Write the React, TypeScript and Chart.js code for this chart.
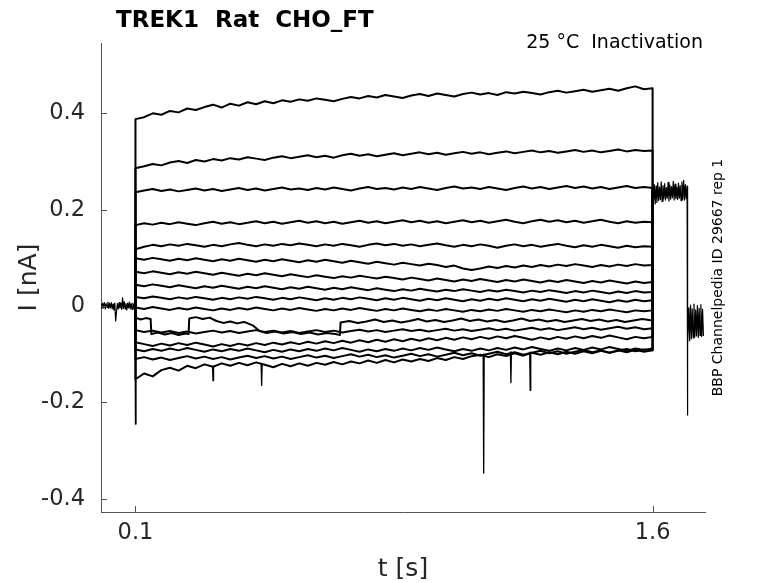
import React, { useEffect, useRef } from 'react';
import { Chart, ChartConfiguration, Plugin, registerables } from 'chart.js';

Chart.register(...registerables);

// ---- data (t in s, I in nA) ----
const tPre = [0, 0.0025, 0.005, 0.0075, 0.01, 0.0125, 0.015, 0.0175, 0.02, 0.0225,
    0.025, 0.0275, 0.03, 0.0325, 0.035, 0.0375, 0.04, 0.0425, 0.045, 0.0475,
    0.05, 0.0525, 0.055, 0.0575, 0.06, 0.0625, 0.065, 0.0675, 0.07, 0.0725,
    0.075, 0.0775, 0.08, 0.0825, 0.085, 0.0875, 0.09, 0.0925, 0.095, 0.0975, 0.1];
const iPre = [0.004, -0.005, 0.006, -0.004, 0.007, -0.006, 0.005, -0.003, 0.008, -0.005,
    0.006, -0.004, 0.007, -0.006, 0.004, -0.008, 0.006, -0.031, -0.012, 0.005,
    -0.006, 0.007, -0.004, 0.006, -0.007, 0.017, -0.005, 0.009, -0.006, 0.005,
    -0.008, 0.006, -0.004, 0.008, -0.006, 0.005, -0.007, 0.006, -0.004, 0.005, 0.000];

const tPulse = [0.100, 0.125, 0.150, 0.175, 0.200, 0.225, 0.250, 0.275, 0.300, 0.325,
    0.350, 0.375, 0.400, 0.425, 0.450, 0.475, 0.500, 0.525, 0.550, 0.575,
    0.600, 0.625, 0.650, 0.675, 0.700, 0.725, 0.750, 0.775, 0.800, 0.825,
    0.850, 0.875, 0.900, 0.925, 0.950, 0.975, 1.000, 1.025, 1.050, 1.075,
    1.100, 1.125, 1.150, 1.175, 1.200, 1.225, 1.250, 1.275, 1.300, 1.325,
    1.350, 1.375, 1.400, 1.425, 1.450, 1.475, 1.500, 1.525, 1.550, 1.575, 1.600];

const iA = [0.388, 0.392, 0.400, 0.397, 0.405, 0.402, 0.410, 0.407, 0.413, 0.418,
    0.412, 0.420, 0.416, 0.423, 0.419, 0.425, 0.421, 0.427, 0.424, 0.429,
    0.426, 0.431, 0.428, 0.425, 0.430, 0.434, 0.431, 0.436, 0.433, 0.438,
    0.435, 0.432, 0.437, 0.440, 0.436, 0.441, 0.438, 0.435, 0.440, 0.443,
    0.439, 0.442, 0.438, 0.444, 0.441, 0.445, 0.442, 0.439, 0.444, 0.447,
    0.443, 0.446, 0.449, 0.445, 0.448, 0.451, 0.447, 0.452, 0.456, 0.450, 0.452];
const iB = [0.286, 0.290, 0.295, 0.292, 0.298, 0.301, 0.297, 0.303, 0.300, 0.305,
    0.302, 0.307, 0.304, 0.309, 0.306, 0.303, 0.308, 0.311, 0.307, 0.310,
    0.313, 0.309, 0.312, 0.308, 0.313, 0.316, 0.312, 0.315, 0.311, 0.314,
    0.317, 0.313, 0.316, 0.319, 0.315, 0.318, 0.314, 0.317, 0.320, 0.316,
    0.319, 0.315, 0.318, 0.321, 0.317, 0.320, 0.323, 0.319, 0.322, 0.318,
    0.321, 0.324, 0.320, 0.323, 0.319, 0.322, 0.325, 0.321, 0.324, 0.322, 0.323];
const iC = [0.236, 0.240, 0.243, 0.239, 0.242, 0.238, 0.241, 0.244, 0.240, 0.243,
    0.239, 0.242, 0.245, 0.241, 0.244, 0.240, 0.243, 0.246, 0.242, 0.244,
    0.241, 0.245, 0.242, 0.246, 0.243, 0.240, 0.244, 0.247, 0.243, 0.245,
    0.242, 0.246, 0.243, 0.247, 0.244, 0.241, 0.245, 0.248, 0.244, 0.246,
    0.243, 0.247, 0.244, 0.241, 0.245, 0.248, 0.244, 0.247, 0.243, 0.246,
    0.249, 0.245, 0.248, 0.244, 0.247, 0.243, 0.246, 0.249, 0.245, 0.247, 0.245];
const iD = [0.168, 0.172, 0.169, 0.173, 0.170, 0.174, 0.171, 0.168, 0.172, 0.175,
    0.171, 0.174, 0.170, 0.173, 0.176, 0.172, 0.175, 0.171, 0.174, 0.177,
    0.173, 0.176, 0.172, 0.175, 0.171, 0.174, 0.177, 0.173, 0.176, 0.172,
    0.175, 0.178, 0.174, 0.177, 0.173, 0.176, 0.172, 0.175, 0.178, 0.174,
    0.177, 0.173, 0.176, 0.179, 0.175, 0.172, 0.176, 0.179, 0.175, 0.178,
    0.174, 0.177, 0.173, 0.176, 0.179, 0.175, 0.172, 0.176, 0.173, 0.175, 0.174];
const iE = [0.118, 0.123, 0.127, 0.124, 0.128, 0.125, 0.129, 0.126, 0.123, 0.127,
    0.124, 0.128, 0.131, 0.127, 0.124, 0.128, 0.125, 0.129, 0.126, 0.130,
    0.127, 0.124, 0.128, 0.125, 0.129, 0.126, 0.123, 0.127, 0.130, 0.126,
    0.129, 0.125, 0.128, 0.124, 0.127, 0.130, 0.126, 0.123, 0.127, 0.124,
    0.128, 0.125, 0.121, 0.125, 0.128, 0.124, 0.127, 0.123, 0.126, 0.129,
    0.125, 0.122, 0.126, 0.123, 0.127, 0.124, 0.121, 0.125, 0.122, 0.124, 0.123];
const iF = [0.099, 0.096, 0.100, 0.097, 0.094, 0.098, 0.095, 0.099, 0.096, 0.093,
    0.097, 0.094, 0.098, 0.095, 0.092, 0.096, 0.093, 0.097, 0.094, 0.091,
    0.095, 0.092, 0.096, 0.093, 0.090, 0.094, 0.091, 0.088, 0.092, 0.089,
    0.086, 0.090, 0.087, 0.084, 0.088, 0.085, 0.081, 0.084, 0.078, 0.075,
    0.078, 0.082, 0.079, 0.083, 0.080, 0.084, 0.081, 0.085, 0.082, 0.086,
    0.083, 0.087, 0.084, 0.081, 0.085, 0.082, 0.086, 0.083, 0.087, 0.084, 0.085];
const iG = [0.071, 0.068, 0.072, 0.069, 0.066, 0.070, 0.067, 0.071, 0.068, 0.065,
    0.069, 0.066, 0.063, 0.067, 0.064, 0.068, 0.065, 0.062, 0.066, 0.063,
    0.060, 0.064, 0.061, 0.058, 0.062, 0.059, 0.063, 0.060, 0.057, 0.061,
    0.058, 0.055, 0.059, 0.056, 0.053, 0.057, 0.054, 0.051, 0.055, 0.052,
    0.056, 0.053, 0.050, 0.054, 0.051, 0.055, 0.052, 0.049, 0.053, 0.050,
    0.054, 0.051, 0.048, 0.052, 0.049, 0.053, 0.050, 0.047, 0.051, 0.048, 0.050];
const iH = [0.044, 0.041, 0.045, 0.042, 0.039, 0.043, 0.040, 0.037, 0.041, 0.038,
    0.042, 0.039, 0.036, 0.040, 0.037, 0.041, 0.038, 0.035, 0.039, 0.036,
    0.040, 0.037, 0.034, 0.038, 0.035, 0.039, 0.036, 0.033, 0.037, 0.034,
    0.031, 0.035, 0.032, 0.036, 0.033, 0.030, 0.034, 0.031, 0.035, 0.032,
    0.029, 0.033, 0.030, 0.034, 0.031, 0.028, 0.032, 0.029, 0.033, 0.030,
    0.027, 0.031, 0.028, 0.032, 0.029, 0.026, 0.030, 0.027, 0.031, 0.028, 0.029];
const iI = [0.019, 0.016, 0.020, 0.017, 0.014, 0.018, 0.015, 0.019, 0.016, 0.013,
    0.017, 0.014, 0.018, 0.015, 0.019, 0.016, 0.013, 0.017, 0.014, 0.018,
    0.015, 0.012, 0.016, 0.013, 0.017, 0.014, 0.018, 0.015, 0.012, 0.016,
    0.013, 0.017, 0.014, 0.011, 0.015, 0.012, 0.016, 0.013, 0.010, 0.014,
    0.011, 0.015, 0.012, 0.016, 0.013, 0.010, 0.014, 0.011, 0.015, 0.012,
    0.009, 0.013, 0.010, 0.014, 0.011, 0.008, 0.012, 0.009, 0.013, 0.010, 0.012];
const iJ = [-0.003, -0.006, -0.002, -0.005, -0.008, -0.004, -0.007, -0.003, -0.006, -0.009,
    -0.005, -0.008, -0.004, -0.007, -0.003, -0.006, -0.009, -0.005, -0.008, -0.004,
    -0.007, -0.010, -0.006, -0.009, -0.005, -0.008, -0.004, -0.007, -0.010, -0.006,
    -0.009, -0.005, -0.008, -0.011, -0.007, -0.010, -0.006, -0.009, -0.012, -0.008,
    -0.011, -0.007, -0.010, -0.006, -0.009, -0.012, -0.008, -0.011, -0.007, -0.010,
    -0.013, -0.009, -0.012, -0.008, -0.011, -0.007, -0.010, -0.013, -0.009, -0.011, -0.009];
const iL = [-0.050, -0.054, -0.051, -0.055, -0.052, -0.056, -0.053, -0.057, -0.054, -0.051,
    -0.055, -0.052, -0.056, -0.053, -0.050, -0.054, -0.051, -0.055, -0.052, -0.056,
    -0.053, -0.050, -0.054, -0.051, -0.055, -0.052, -0.049, -0.053, -0.050, -0.054,
    -0.051, -0.048, -0.052, -0.049, -0.053, -0.050, -0.047, -0.051, -0.048, -0.052,
    -0.049, -0.046, -0.050, -0.047, -0.051, -0.048, -0.045, -0.049, -0.046, -0.050,
    -0.047, -0.044, -0.048, -0.045, -0.049, -0.046, -0.043, -0.047, -0.044, -0.048, -0.046];
const iM = [-0.075, -0.079, -0.083, -0.078, -0.082, -0.077, -0.081, -0.076, -0.080, -0.084,
    -0.079, -0.083, -0.078, -0.082, -0.077, -0.081, -0.076, -0.080, -0.075, -0.079,
    -0.074, -0.078, -0.073, -0.077, -0.072, -0.076, -0.071, -0.075, -0.070, -0.074,
    -0.069, -0.073, -0.068, -0.072, -0.067, -0.071, -0.066, -0.070, -0.065, -0.069,
    -0.064, -0.068, -0.063, -0.067, -0.062, -0.066, -0.070, -0.065, -0.069, -0.064,
    -0.068, -0.063, -0.067, -0.062, -0.066, -0.061, -0.065, -0.069, -0.064, -0.067, -0.064];
const iN = [-0.090, -0.094, -0.089, -0.093, -0.088, -0.092, -0.087, -0.091, -0.095, -0.090,
    -0.094, -0.089, -0.093, -0.088, -0.092, -0.096, -0.091, -0.095, -0.090, -0.094,
    -0.089, -0.093, -0.088, -0.092, -0.087, -0.091, -0.095, -0.090, -0.094, -0.089,
    -0.093, -0.088, -0.092, -0.087, -0.091, -0.086, -0.090, -0.094, -0.089, -0.093,
    -0.088, -0.092, -0.087, -0.091, -0.086, -0.090, -0.085, -0.089, -0.093, -0.088,
    -0.092, -0.087, -0.091, -0.086, -0.090, -0.085, -0.089, -0.093, -0.088, -0.091, -0.088];
const iP = [-0.110, -0.106, -0.111, -0.107, -0.112, -0.108, -0.104, -0.109, -0.105, -0.110,
    -0.106, -0.111, -0.107, -0.103, -0.108, -0.104, -0.109, -0.105, -0.110, -0.106,
    -0.102, -0.107, -0.103, -0.108, -0.104, -0.100, -0.105, -0.101, -0.106, -0.102,
    -0.107, -0.103, -0.099, -0.104, -0.100, -0.105, -0.101, -0.097, -0.102, -0.098,
    -0.103, -0.099, -0.095, -0.100, -0.096, -0.101, -0.097, -0.093, -0.098, -0.094,
    -0.099, -0.095, -0.091, -0.096, -0.092, -0.097, -0.093, -0.089, -0.094, -0.090, -0.092];
const iO = [-0.152, -0.140, -0.146, -0.133, -0.128, -0.134, -0.124, -0.129, -0.121, -0.126,
    -0.119, -0.124, -0.118, -0.123, -0.117, -0.122, -0.127, -0.120, -0.125, -0.119,
    -0.124, -0.118, -0.122, -0.116, -0.121, -0.115, -0.119, -0.113, -0.118, -0.112,
    -0.117, -0.111, -0.115, -0.110, -0.114, -0.108, -0.112, -0.106, -0.110, -0.104,
    -0.101, -0.106, -0.100, -0.104, -0.098, -0.103, -0.097, -0.101, -0.096, -0.100,
    -0.095, -0.099, -0.094, -0.098, -0.093, -0.097, -0.092, -0.096, -0.091, -0.095, -0.092];

// sweep that flips between two levels during the pulse
const tK = [0.100, 0.115, 0.130, 0.144, 0.146, 0.165, 0.185, 0.205, 0.225, 0.245,
    0.254, 0.256, 0.275, 0.295, 0.315, 0.335, 0.355, 0.375, 0.395, 0.415,
    0.440, 0.460, 0.480, 0.505, 0.530, 0.555, 0.580, 0.605, 0.630, 0.655,
    0.680, 0.693, 0.695, 0.720, 0.745, 0.770, 0.795, 0.820, 0.845, 0.870,
    0.895, 0.920, 0.945, 0.970, 0.995, 1.020, 1.045, 1.070, 1.095, 1.120,
    1.145, 1.170, 1.195, 1.220, 1.245, 1.270, 1.295, 1.320, 1.345, 1.370,
    1.395, 1.420, 1.445, 1.470, 1.495, 1.520, 1.545, 1.570, 1.600];
const iK = [-0.024, -0.028, -0.025, -0.027, -0.058, -0.055, -0.059, -0.056, -0.060, -0.057,
    -0.058, -0.026, -0.023, -0.027, -0.024, -0.031, -0.035, -0.032, -0.036, -0.033,
    -0.040, -0.052, -0.056, -0.053, -0.057, -0.054, -0.058, -0.055, -0.059, -0.056,
    -0.058, -0.060, -0.034, -0.031, -0.035, -0.032, -0.028, -0.033, -0.030, -0.034,
    -0.031, -0.027, -0.032, -0.029, -0.033, -0.030, -0.026, -0.031, -0.028, -0.032,
    -0.029, -0.033, -0.030, -0.026, -0.031, -0.028, -0.032, -0.029, -0.033, -0.030,
    -0.027, -0.031, -0.028, -0.032, -0.029, -0.033, -0.030, -0.027, -0.030];

// common post-pulse step and return to holding
const tPost = [1.6, 1.6025, 1.605, 1.6075, 1.61, 1.6125, 1.615, 1.6175, 1.62, 1.6225,
    1.625, 1.6275, 1.63, 1.6325, 1.635, 1.6375, 1.64, 1.6425, 1.645, 1.6475,
    1.65, 1.6525, 1.655, 1.6575, 1.66, 1.6625, 1.665, 1.6675, 1.67, 1.6725,
    1.675, 1.6775, 1.68, 1.6825, 1.685, 1.6875, 1.69, 1.6925, 1.695, 1.6975, 1.7];
const iPost = [0.240, 0.218, 0.252, 0.212, 0.249, 0.215, 0.256, 0.219, 0.247, 0.221,
    0.258, 0.217, 0.250, 0.223, 0.254, 0.220, 0.246, 0.224, 0.257, 0.218,
    0.251, 0.222, 0.248, 0.225, 0.259, 0.220, 0.253, 0.223, 0.247, 0.221,
    0.255, 0.224, 0.250, 0.219, 0.258, 0.222, 0.261, 0.220, 0.252, 0.223, 0.249];
const tTail = [1.7005, 1.7015, 1.7025, 1.705, 1.7075, 1.71, 1.7125, 1.715, 1.7175, 1.72,
    1.7225, 1.725, 1.7275, 1.73, 1.7325, 1.735, 1.7375, 1.74, 1.7425, 1.745, 1.7475];
const iTail = [-0.226, -0.120, -0.082, -0.004, -0.072, 0.002, -0.068, -0.006, -0.066, 0.004,
    -0.064, -0.008, -0.062, 0.001, -0.065, -0.005, -0.061, 0.003, -0.063, -0.007, -0.062];

// brief spikes: time, level before, tip
const spikeT = [0.100, 0.325, 0.466, 1.110, 1.189, 1.245];
const spikeBase = [0.000, -0.125, -0.120, -0.100, -0.095, -0.095];
const spikePeak = [-0.245, -0.155, -0.165, -0.347, -0.159, -0.175];

const xTicks = [0.1, 1.6];
const yTicks = [-0.4, -0.2, 0, 0.2, 0.4];

const titleText = 'TREK1  Rat  CHO_FT';
const conditionText = '25 °C  Inactivation';
const sourceText = 'BBP Channelpedia ID 29667 rep 1';
const xLabel = 't [s]';
const yLabel = 'I [nA]';

const FONT = '"DejaVu Sans", sans-serif';
const AXIS_GREY = '#555555';
const TEXT_GREY = '#262626';

const zip = (t: number[], v: number[]) => t.map((x, k) => ({ x, y: v[k] }));

const pulseSweeps: [number[], number[]][] = [
    [tPulse, iA], [tPulse, iB], [tPulse, iC], [tPulse, iD], [tPulse, iE],
    [tPulse, iF], [tPulse, iG], [tPulse, iH], [tPulse, iI], [tPulse, iJ],
    [tK, iK], [tPulse, iL], [tPulse, iM], [tPulse, iN], [tPulse, iP], [tPulse, iO],
];

const buildDatasets = () => {
    const hold = { x: tPre[tPre.length - 1], y: iPre[iPre.length - 1] };
    const post = { x: tPost[0], y: iPost[0] };
    const sets: any[] = [];
    sets.push({ data: zip(tPre, iPre), borderWidth: 1.2 });
    pulseSweeps.forEach(([t, v]) => {
        sets.push({ data: [hold, ...zip(t, v), post], borderWidth: 2 });
    });
    sets.push({ data: [...zip(tPost, iPost), ...zip(tTail, iTail)], borderWidth: 1.2 });
    spikeT.forEach((t, k) => {
        sets.push({
            data: [
                { x: t - 0.0015, y: spikeBase[k] },
                { x: t, y: spikePeak[k] },
                { x: t + 0.0015, y: spikeBase[k] },
            ],
            borderWidth: 1.3,
        });
    });
    return sets;
};

// inward tick marks and all the free text
const decorPlugin: Plugin<'line'> = {
    id: 'decor',
    afterDraw(chart) {
        const { ctx, chartArea: a, scales } = chart;
        const xs = scales.x;
        const ys = scales.y;
        ctx.save();
        ctx.strokeStyle = AXIS_GREY;
        ctx.lineWidth = 1;
        ctx.beginPath();
        yTicks.forEach((v) => {
            const y = Math.round(ys.getPixelForValue(v)) + 0.5;
            ctx.moveTo(a.left, y);
            ctx.lineTo(a.left + 6, y);
        });
        xTicks.forEach((v) => {
            const x = Math.round(xs.getPixelForValue(v)) + 0.5;
            ctx.moveTo(x, a.bottom);
            ctx.lineTo(x, a.bottom - 6);
        });
        ctx.stroke();

        ctx.textBaseline = 'alphabetic';
        ctx.fillStyle = '#000';
        ctx.font = `bold 23px ${FONT}`;
        ctx.textAlign = 'left';
        ctx.fillText(titleText, 116, 27);

        ctx.font = `19px ${FONT}`;
        ctx.textAlign = 'right';
        ctx.fillText(conditionText, 703, 48);

        ctx.fillStyle = TEXT_GREY;
        ctx.font = `25px ${FONT}`;
        ctx.textAlign = 'center';
        ctx.fillText(xLabel, (a.left + a.right) / 2, 576);

        ctx.save();
        ctx.translate(36, (a.top + a.bottom) / 2);
        ctx.rotate(-Math.PI / 2);
        ctx.fillText(yLabel, 0, 0);
        ctx.restore();

        ctx.save();
        ctx.fillStyle = '#000';
        ctx.font = `14px ${FONT}`;
        ctx.translate(722, (a.top + a.bottom) / 2);
        ctx.rotate(-Math.PI / 2);
        ctx.fillText(sourceText, 0, 0);
        ctx.restore();

        ctx.restore();
    },
};

const App: React.FC = () => {
    const canvasRef = useRef<HTMLCanvasElement | null>(null);
    const chartRef = useRef<Chart | null>(null);

    useEffect(() => {
        const ctx = canvasRef.current?.getContext('2d');
        if (!ctx) return;
        if (chartRef.current) chartRef.current.destroy();

        const config: ChartConfiguration<'line'> = {
            type: 'line',
            data: { datasets: buildDatasets() },
            options: {
                animation: false,
                responsive: true,
                maintainAspectRatio: false,
                parsing: false,
                layout: { padding: { top: 43, right: 73, left: 0, bottom: 0 } },
                plugins: {
                    legend: { display: false },
                    tooltip: { enabled: false },
                    title: { display: false },
                },
                elements: {
                    line: {
                        borderColor: '#000',
                        borderWidth: 1.2,
                        tension: 0,
                        borderJoinStyle: 'round',
                        fill: false,
                    },
                    point: { radius: 0, hoverRadius: 0 },
                },
                scales: {
                    x: {
                        type: 'linear',
                        min: 0,
                        max: 1.752,
                        grid: { display: false, drawTicks: false },
                        border: { display: true, color: AXIS_GREY, width: 1 },
                        ticks: {
                            color: TEXT_GREY,
                            font: { family: FONT, size: 22.5 },
                            padding: 8,
                            maxRotation: 0,
                            autoSkip: false,
                            callback: (v) => String(v),
                        },
                        afterBuildTicks: (s) => {
                            s.ticks = xTicks.map((value) => ({ value }));
                        },
                        afterFit: (s) => {
                            s.height = 71;
                        },
                    },
                    y: {
                        type: 'linear',
                        min: -0.4275,
                        max: 0.546,
                        grid: { display: false, drawTicks: false },
                        border: { display: true, color: AXIS_GREY, width: 1 },
                        ticks: {
                            color: TEXT_GREY,
                            font: { family: FONT, size: 22.5 },
                            padding: 16,
                            autoSkip: false,
                            callback: (v) => String(v),
                        },
                        afterBuildTicks: (s) => {
                            s.ticks = yTicks.map((value) => ({ value }));
                        },
                        afterFit: (s) => {
                            s.width = 101;
                        },
                    },
                },
            },
            plugins: [decorPlugin],
        };

        chartRef.current = new Chart(ctx, config);

        return () => {
            if (chartRef.current) {
                chartRef.current.destroy();
                chartRef.current = null;
            }
        };
    }, []);

    return (
        <div style={{ position: 'fixed', left: 0, top: 0, width: 778, height: 583, background: '#fff' }}>
            <canvas ref={canvasRef} />
        </div>
    );
};

export default App;
